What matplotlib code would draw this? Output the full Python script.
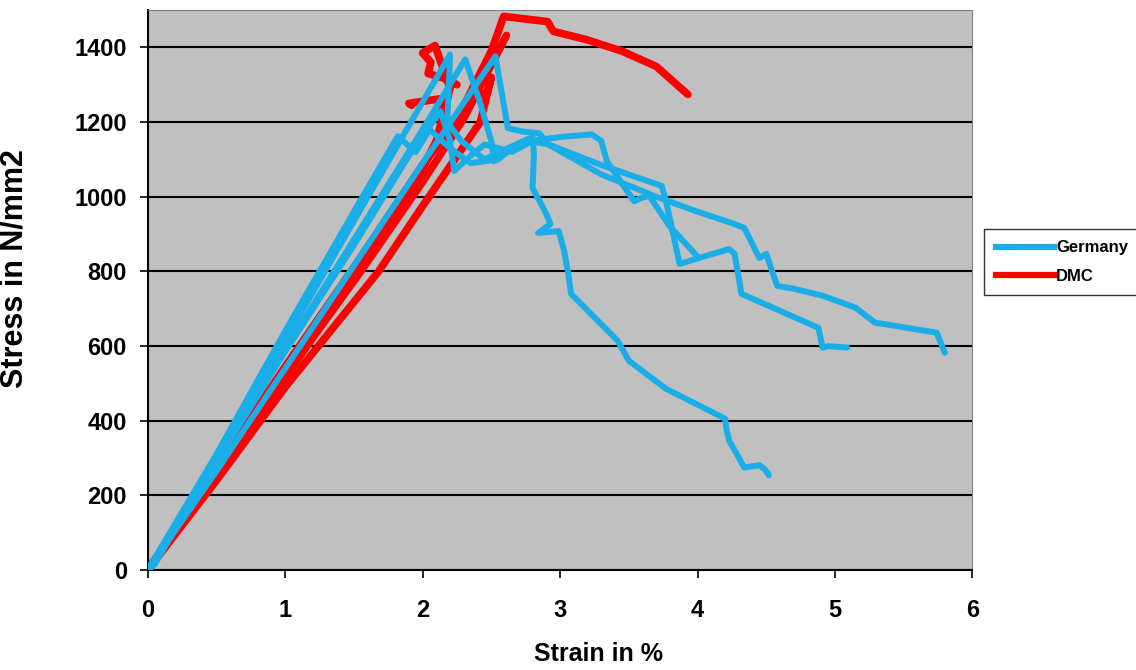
import matplotlib
matplotlib.use('Agg')
import matplotlib.pyplot as plt
from matplotlib.lines import Line2D

plt.rcParams['font.family'] = ['Liberation Sans', 'DejaVu Sans']

# Germany specimens (strain in %, stress in N/mm2)
ger1_x = [0, 0.05, 0.5, 1.0, 1.5, 1.9, 2.20, 2.18, 2.28, 2.45, 2.62, 2.80, 2.81, 2.80, 2.85, 2.90,
          2.93, 2.84, 2.99, 3.03, 3.06, 3.08, 3.42, 3.50, 3.77, 4.20, 4.21, 4.23, 4.30, 4.34, 4.45, 4.49, 4.52]
ger1_y = [0, 15, 300, 615, 935, 1190, 1381, 1200, 1150, 1100, 1130, 1160, 1114, 1023, 989, 954,
          927, 903, 908, 855, 793, 740, 614, 561, 486, 406, 379, 347, 302, 275, 281, 270, 254]

ger2_x = [0, 0.5, 1.0, 1.5, 2.0, 2.31, 2.42, 2.50, 2.52, 2.60, 2.75, 2.91, 3.30, 3.74, 3.77, 3.87,
          4.01, 4.23, 4.27, 4.32, 4.88, 4.91, 4.95, 5.09]
ger2_y = [0, 290, 590, 885, 1180, 1368, 1250, 1149, 1095, 1120, 1150, 1141, 1085, 1029, 990, 820,
          836, 860, 847, 740, 649, 596, 600, 596]

ger3_x = [0, 0.5, 1.0, 1.5, 2.0, 2.53, 2.62, 2.72, 2.85, 2.91, 3.30, 3.70, 4.0, 4.27, 4.34, 4.45,
          4.50, 4.58, 4.71, 4.91, 5.15, 5.29, 5.74, 5.80]
ger3_y = [0, 265, 540, 815, 1090, 1376, 1184, 1175, 1170, 1141, 1060, 1000, 960, 927, 917, 836,
          847, 761, 753, 735, 703, 663, 636, 582]

ger4_x = [0, 0.5, 1.0, 1.5, 1.9, 2.13, 2.20, 2.23, 2.35, 2.45, 2.65, 2.80, 3.00, 3.23, 3.30, 3.34,
          3.54, 3.59, 3.65, 3.80, 4.01]
ger4_y = [0, 290, 585, 870, 1110, 1229, 1150, 1069, 1110, 1140, 1120, 1150, 1160, 1167, 1150, 1095,
          988, 997, 1002, 920, 836]

ger5_x = [0, 0.5, 1.0, 1.5, 1.82, 1.95, 2.05, 2.20, 2.35, 2.55, 2.65]
ger5_y = [0, 310, 640, 960, 1162, 1120, 1180, 1130, 1090, 1100, 1130]

# DMC specimens
dmc1_x = [0, 0.5, 1.0, 1.48, 2.0, 2.24, 2.5, 2.59, 2.91, 2.95, 3.19, 3.45, 3.70, 3.93]
dmc1_y = [0, 270, 545, 800, 1085, 1200, 1390, 1483, 1469, 1443, 1421, 1390, 1349, 1274]

dmc2_x = [0, 0.5, 1.0, 1.55, 2.0, 2.3, 2.61]
dmc2_y = [0, 255, 520, 800, 1040, 1210, 1432]

dmc3_x = [0, 0.5, 1.0, 1.68, 2.0, 2.42, 2.50, 2.47, 2.40]
dmc3_y = [0, 240, 490, 800, 975, 1200, 1320, 1280, 1272]

dmc4_x = [0, 0.5, 1.0, 1.5, 1.9, 2.1, 2.2, 2.09, 2.00, 2.06, 2.04, 2.15, 2.25]
dmc4_y = [0, 255, 520, 790, 1000, 1150, 1290, 1405, 1385, 1360, 1330, 1318, 1300]

dmc5_x = [0, 0.5, 1.0, 1.5, 1.9, 2.15, 2.12, 1.90, 1.92]
dmc5_y = [0, 250, 515, 785, 1010, 1180, 1262, 1250, 1245]

germany = [(ger1_x, ger1_y), (ger2_x, ger2_y), (ger3_x, ger3_y), (ger4_x, ger4_y), (ger5_x, ger5_y)]
dmc = [(dmc1_x, dmc1_y), (dmc2_x, dmc2_y), (dmc3_x, dmc3_y), (dmc4_x, dmc4_y), (dmc5_x, dmc5_y)]

blue = '#19AEE8'
red = '#FF0000'

fig = plt.figure(figsize=(11.36, 6.70), dpi=100)
ax = fig.add_axes([0.130, 0.149, 0.726, 0.836])
ax.set_facecolor('#C0C0C0')

for x, y in dmc:
    ax.plot(x, y, color=red, lw=5.5, solid_joinstyle='round', solid_capstyle='round', zorder=3)
for x, y in germany:
    ax.plot(x, y, color=blue, lw=4.3, solid_joinstyle='round', solid_capstyle='round', zorder=4)

ax.set_xlim(0, 6)
ax.set_ylim(0, 1500)
ax.set_xticks(range(0, 7))
ax.set_yticks(range(0, 1401, 200))
ax.yaxis.grid(True, color='black', lw=1.5)
ax.set_axisbelow(True)

for s in ['top', 'right']:
    ax.spines[s].set_color('#808080')
for s in ['left', 'bottom']:
    ax.spines[s].set_color('black')
    ax.spines[s].set_linewidth(1.5)

ax.tick_params(axis='y', direction='out', length=6, width=1.2, pad=9, labelsize=17)
ax.tick_params(axis='x', direction='out', length=6, width=1.2, pad=15, labelsize=17)
for lab in ax.get_xticklabels() + ax.get_yticklabels():
    lab.set_fontweight('bold')

ax.set_ylabel('Stress in N/mm2', fontsize=22, fontweight='bold')
ax.yaxis.set_label_coords(-0.143, 0.539)
ax.set_xlabel('Strain in %', fontsize=18, fontweight='bold')
ax.xaxis.set_label_coords(0.547, -0.128)

# legend sits outside the plot, at the right edge
handles = [Line2D([], [], color=blue, lw=4.5), Line2D([], [], color=red, lw=4.5)]
leg = fig.legend(handles, ['Germany', 'DMC'], loc='upper left', bbox_to_anchor=(0.862, 0.666),
                 prop={'size': 12, 'weight': 'bold'}, handlelength=3.5, frameon=True,
                 fancybox=False, edgecolor='black', borderpad=0.7, labelspacing=0.8,
                 handletextpad=0.1, borderaxespad=0.3)
leg.get_frame().set_linewidth(1.0)

plt.savefig('out.png', dpi=100)
